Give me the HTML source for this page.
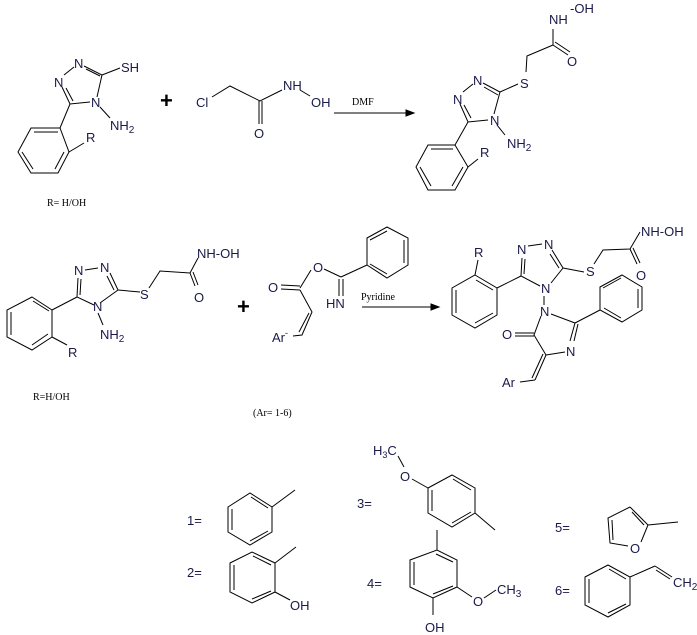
<!DOCTYPE html>
<html><head><meta charset="utf-8"><style>
html,body{margin:0;padding:0;background:#fff;width:697px;height:635px;overflow:hidden}
svg text{font-family:"Liberation Sans",Arial,sans-serif;font-size:13px;fill:#1a1a4a}
svg text.t{font-family:"Liberation Serif",serif;font-size:10px;fill:#000}
svg line,svg polyline,svg polygon{stroke:#000;stroke-width:1;fill:none}
</style></head><body>
<svg width="697" height="635" viewBox="0 0 697 635" xmlns="http://www.w3.org/2000/svg">
<polyline points="84,66 102,75 97,97"/>
<line x1="86" y1="69" x2="100" y2="76"/>
<line x1="74" y1="67" x2="64" y2="75"/>
<polyline points="62,87 70,104 90,102"/>
<line x1="66" y1="88" x2="73" y2="101"/>
<line x1="102" y1="75" x2="120" y2="68"/>
<line x1="100" y1="107" x2="110" y2="118"/>
<line x1="70" y1="104" x2="60" y2="128"/>
<polygon points="31,128 60,128 69,152 58,173 31,173 18,152"/>
<line x1="34" y1="132" x2="58" y2="132"/><line x1="64" y1="152" x2="55" y2="169"/><line x1="22" y1="152" x2="33" y2="169"/>
<line x1="69" y1="152" x2="84" y2="143"/>
<text x="74" y="68">N</text><text x="54" y="87">N</text><text x="91" y="107">N</text>
<text x="121" y="72">SH</text><text x="110" y="130">NH<tspan font-size="10" dy="3">2</tspan></text>
<text x="86" y="142">R</text>
<text class="t" x="47" y="206">R= H/OH</text>
<text x="160" y="108" style="font-size:22px;font-weight:bold;fill:#000">+</text>
<text x="196" y="107">Cl</text>
<polyline points="212,97 230,86 260,101 282,90"/>
<line x1="259" y1="101" x2="259" y2="124"/><line x1="262" y1="101" x2="262" y2="124"/>
<text x="283" y="90">NH</text><line x1="300" y1="90" x2="310" y2="96"/><text x="311" y="107">OH</text>
<text x="254" y="138">O</text>
<line x1="334" y1="113" x2="413" y2="113"/><polygon points="406,110 414,113 406,116" style="fill:#000"/>
<text class="t" x="352" y="105">DMF</text>
<text x="549" y="24">NH</text><text x="570" y="13">-OH</text>
<polyline points="553,29 553,45 527,56 526,72"/>
<line x1="553" y1="45" x2="568" y2="55"/><line x1="555" y1="42" x2="570" y2="52"/>
<text x="567" y="66">O</text><text x="520" y="88">S</text>
<line x1="518" y1="84" x2="500" y2="92"/>
<polyline points="483,83 500,92 494,114"/><line x1="484" y1="87" x2="498" y2="95"/>
<line x1="473" y1="84" x2="463" y2="92"/>
<polyline points="460,104 468,122 488,120"/><line x1="464" y1="105" x2="471" y2="118"/>
<text x="473" y="85">N</text><text x="453" y="104">N</text><text x="490" y="125">N</text>
<line x1="497" y1="125" x2="505" y2="135"/>
<text x="507" y="148">NH<tspan font-size="10" dy="3">2</tspan></text>
<line x1="468" y1="122" x2="455" y2="145"/>
<polygon points="428,145 455,145 468,167 455,190 428,190 416,167"/>
<line x1="431" y1="149" x2="453" y2="149"/><line x1="463" y1="167" x2="452" y2="186"/><line x1="420" y1="167" x2="431" y2="186"/>
<line x1="468" y1="167" x2="478" y2="159"/><text x="480" y="157">R</text>
<text x="74" y="275">N</text><text x="100" y="272">N</text><line x1="85" y1="270" x2="98" y2="268"/>
<polyline points="110,273 118,290 100,303"/><line x1="107" y1="276" x2="114" y2="290"/>
<line x1="118" y1="290" x2="140" y2="292"/>
<polyline points="78,278 77,297 94,305"/><line x1="81" y1="279" x2="80" y2="295"/>
<text x="93" y="311">N</text><line x1="98" y1="313" x2="103" y2="325"/>
<text x="100" y="339">NH<tspan font-size="10" dy="3">2</tspan></text>
<text x="140" y="299">S</text>
<polyline points="149,288 160,271 190,273 198,258"/>
<line x1="190" y1="273" x2="195" y2="286"/><line x1="193" y1="272" x2="198" y2="285"/>
<text x="194" y="302">O</text><text x="197" y="258">NH-OH</text>
<line x1="77" y1="297" x2="52" y2="310"/>
<polygon points="32,297 52,310 52,337 32,350 7,337 7,310"/>
<line x1="33" y1="301" x2="49" y2="311"/><line x1="48" y1="334" x2="32" y2="345"/><line x1="11" y1="312" x2="11" y2="335"/>
<line x1="52" y1="337" x2="67" y2="345"/><text x="68" y="357">R</text>
<text class="t" x="33" y="400">R=H/OH</text>
<text x="237" y="314" style="font-size:22px;font-weight:bold;fill:#000">+</text>
<text x="268" y="292">O</text>
<line x1="281" y1="285" x2="300" y2="286"/><line x1="281" y1="289" x2="300" y2="290"/>
<line x1="300" y1="288" x2="311" y2="270"/><text x="313" y="272">O</text>
<line x1="324" y1="269" x2="341" y2="277"/>
<line x1="341" y1="277" x2="367" y2="265"/>
<line x1="339" y1="279" x2="339" y2="296"/><line x1="343" y1="279" x2="343" y2="296"/>
<text x="326" y="308">HN</text>
<polygon points="367,238 387,227 408,238 408,265 387,278 367,265"/>
<line x1="370" y1="240" x2="387" y2="231"/><line x1="404" y1="240" x2="404" y2="263"/><line x1="387" y1="274" x2="370" y2="264"/>
<polyline points="300,290 312,312 302,335 293,336"/><line x1="309" y1="313" x2="299" y2="332"/>
<text x="272" y="342">Ar<tspan font-size="9" dy="-6">-</tspan></text>
<text class="t" x="361" y="300">Pyridine</text>
<line x1="362" y1="307" x2="438" y2="307"/><polygon points="431,304 439,307 431,310" style="fill:#000"/>
<text class="t" x="253" y="416">(Ar= 1-6)</text>
<text x="474" y="257">R</text><line x1="478" y1="260" x2="475" y2="275"/>
<polygon points="475,275 497,288 497,315 475,328 452,315 452,288"/>
<line x1="476" y1="280" x2="493" y2="290"/><line x1="493" y1="313" x2="475" y2="323"/><line x1="456" y1="290" x2="456" y2="313"/>
<line x1="497" y1="288" x2="521" y2="276"/>
<text x="517" y="254">N</text><text x="544" y="249">N</text><line x1="528" y1="246" x2="542" y2="244"/>
<polyline points="522,258 521,276 540,286"/><line x1="525" y1="259" x2="524" y2="274"/>
<polyline points="552,250 563,268 551,283"/><line x1="550" y1="254" x2="559" y2="268"/>
<text x="541" y="293">N</text>
<line x1="563" y1="268" x2="584" y2="272"/><text x="586" y="276">S</text>
<polyline points="594,264 603,250 630,249 640,232"/>
<line x1="630" y1="249" x2="637" y2="264"/><line x1="633" y1="248" x2="640" y2="263"/>
<text x="636" y="280">O</text><text x="641" y="236">NH-OH</text>
<line x1="544" y1="296" x2="544" y2="305"/>
<text x="540" y="316">N</text>
<line x1="551" y1="314" x2="575" y2="323"/>
<line x1="575" y1="323" x2="600" y2="310"/>
<line x1="575" y1="323" x2="570" y2="341"/><line x1="578" y1="324" x2="574" y2="341"/>
<text x="566" y="356">N</text>
<line x1="565" y1="352" x2="546" y2="355"/>
<polyline points="541,316 534,335 546,355"/>
<line x1="534" y1="333" x2="515" y2="333"/><line x1="534" y1="336" x2="515" y2="336"/>
<text x="502" y="339">O</text>
<line x1="546" y1="355" x2="535" y2="380"/><line x1="543" y1="354" x2="532" y2="378"/>
<line x1="535" y1="380" x2="520" y2="382"/><text x="502" y="387">Ar</text>
<polygon points="600,287 622,275 642,287 642,310 622,322 600,310"/>
<line x1="603" y1="288" x2="621" y2="278"/><line x1="638" y1="289" x2="638" y2="308"/><line x1="621" y1="318" x2="604" y2="308"/>
<text x="187" y="525">1=</text>
<polygon points="228,507 250,493 272,507 272,532 250,545 228,532"/>
<line x1="232" y1="509" x2="232" y2="530"/><line x1="251" y1="497" x2="268" y2="508"/><line x1="268" y1="531" x2="250" y2="541"/>
<line x1="272" y1="507" x2="295" y2="490"/>
<text x="187" y="577">2=</text>
<polygon points="230,563 252,552 275,563 275,592 252,603 230,592"/>
<line x1="234" y1="565" x2="234" y2="590"/><line x1="253" y1="556" x2="271" y2="565"/><line x1="271" y1="591" x2="252" y2="599"/>
<line x1="275" y1="563" x2="296" y2="547"/><line x1="275" y1="592" x2="290" y2="600"/>
<text x="290" y="610">OH</text>
<text x="357" y="508">3=</text>
<text x="373" y="455">H<tspan font-size="9" dy="3">3</tspan><tspan dy="-3">C</tspan></text>
<line x1="398" y1="456" x2="404" y2="467"/><text x="400" y="481">O</text>
<line x1="412" y1="479" x2="428" y2="488"/>
<polygon points="428,488 452,475 475,488 475,513 452,527 428,513"/>
<line x1="432" y1="490" x2="432" y2="511"/><line x1="453" y1="479" x2="471" y2="490"/><line x1="471" y1="512" x2="452" y2="523"/>
<line x1="475" y1="513" x2="495" y2="530"/>
<text x="367" y="588">4=</text>
<line x1="437" y1="530" x2="437" y2="550"/>
<polygon points="410,560 437,550 457,560 457,587 433,598 410,587"/>
<line x1="414" y1="562" x2="414" y2="585"/><line x1="436" y1="554" x2="453" y2="562"/><line x1="453" y1="586" x2="433" y2="594"/>
<line x1="457" y1="587" x2="472" y2="597"/><text x="473" y="606">O</text>
<line x1="484" y1="598" x2="496" y2="590"/>
<text x="497" y="594">CH<tspan font-size="10" dy="3">3</tspan></text>
<line x1="433" y1="598" x2="433" y2="615"/><text x="425" y="632">OH</text>
<text x="555" y="532">5=</text>
<polyline points="630,507 608,518 610,543 628,546"/><line x1="612" y1="520" x2="613" y2="540"/>
<polyline points="630,507 648,525 641,542"/><line x1="632" y1="512" x2="644" y2="525"/>
<line x1="648" y1="525" x2="678" y2="522"/>
<text x="630" y="553">O</text>
<text x="555" y="595">6=</text>
<polygon points="585,577 608,565 630,577 630,605 608,617 585,605"/>
<line x1="589" y1="579" x2="589" y2="603"/><line x1="609" y1="569" x2="626" y2="579"/><line x1="626" y1="604" x2="608" y2="613"/>
<line x1="630" y1="577" x2="655" y2="566"/>
<line x1="655" y1="566" x2="672" y2="577"/><line x1="656" y1="570" x2="670" y2="579"/>
<text x="673" y="587">CH<tspan font-size="10" dy="3">2</tspan></text>
</svg>
</body></html>
